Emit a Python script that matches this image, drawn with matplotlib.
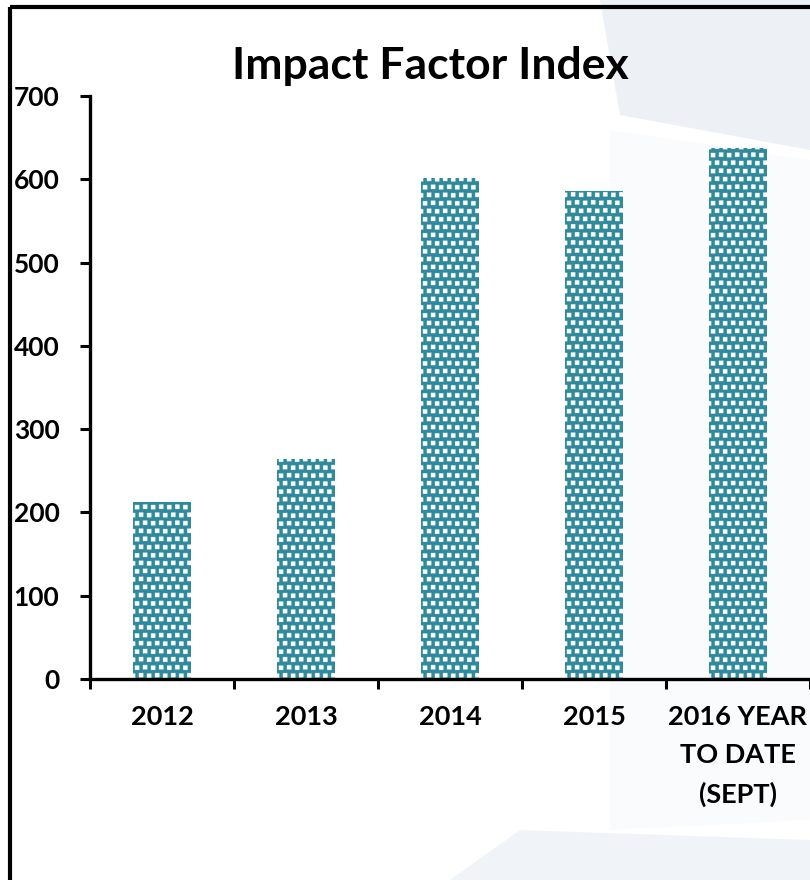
import matplotlib
matplotlib.use("Agg")
import matplotlib.pyplot as plt
import numpy as np
from matplotlib.patches import Rectangle, Polygon

categories = ["2012", "2013", "2014", "2015", "2016 YEAR\nTO DATE\n(SEPT)"]
values = [213, 264, 601, 586, 638]
yticks = [0, 100, 200, 300, 400, 500, 600, 700]
title = "Impact Factor Index"

plt.rcParams['font.family'] = ['Lato', 'DejaVu Sans']

W, H = 810, 880
fig = plt.figure(figsize=(W / 100, H / 100), dpi=100)
fig.patch.set_facecolor("white")

# subtle background shapes
bg = fig.add_axes([0, 0, 1, 1], zorder=-10)
bg.set_xlim(0, W); bg.set_ylim(H, 0); bg.axis("off")
bg.add_patch(Polygon([(600, 0), (810, 0), (810, 150), (620, 115)], closed=True,
                     facecolor="#edf1f6", edgecolor="none"))
bg.add_patch(Polygon([(610, 130), (810, 160), (810, 820), (610, 830)], closed=True,
                     facecolor="#fafbfd", edgecolor="none"))
bg.add_patch(Polygon([(450, 880), (520, 830), (810, 840), (810, 880)], closed=True,
                     facecolor="#f0f4f8", edgecolor="none"))
# outer frame
bg.add_patch(Rectangle((10, 7), 900, 900, facecolor="none", edgecolor="black", linewidth=3))

ax = fig.add_axes([90 / W, 201 / H, 720 / W, 583 / H])
ax.patch.set_alpha(0)
x = np.arange(len(categories))
teal = np.array([0x2f, 0x8a, 0x9d]) / 255.0
bars = ax.bar(x, values, width=0.4, color=teal, linewidth=0)

# confetti texture (tile 16x16 px at 4x resolution), clipped to every bar
S = 4
T = 16 * S
tile = np.zeros((T, T, 3))
tile[:] = teal
sq = 18
for (r, c) in [(4, 4), (6, 36), (36, 20), (38, 52)]:
    rows = np.arange(r, r + sq) % T
    cols = np.arange(c, c + sq) % T
    tile[np.ix_(rows, cols)] = 1.0
ny, nx = 583 * S, 720 * S
tex = np.tile(tile, (ny // T + 1, nx // T + 1, 1))[:ny, :nx]
for b in bars:
    im = ax.imshow(tex, extent=(-0.5, len(categories) - 0.5, 0, 700), origin="upper",
                   interpolation="antialiased", aspect="auto", zorder=2)
    im.set_clip_path(b)

ax.set_xlim(-0.5, len(categories) - 0.5)
ax.set_ylim(0, 700)
ax.set_yticks(yticks)
ax.set_yticklabels([str(v) for v in yticks], fontsize=19, fontweight="bold")
ax.set_xticks(x)
ax.set_xticklabels(categories, fontsize=19.5, fontweight="bold", linespacing=1.7, va="top")
ax.set_xticks(np.arange(-0.5, len(categories)), minor=True)
ax.tick_params(axis="x", which="major", length=0, pad=19)
ax.tick_params(axis="x", which="minor", length=7, width=2.2, direction="out")
ax.tick_params(axis="y", length=7, width=2.2, direction="out", pad=15)

for s in ["top", "right"]:
    ax.spines[s].set_visible(False)
for s in ["left", "bottom"]:
    ax.spines[s].set_linewidth(2.4)

fig.text(430 / W, 1 - 66 / H, title, ha="center", va="center", fontsize=32, fontweight="bold")

fig.savefig("out.png", dpi=100)
